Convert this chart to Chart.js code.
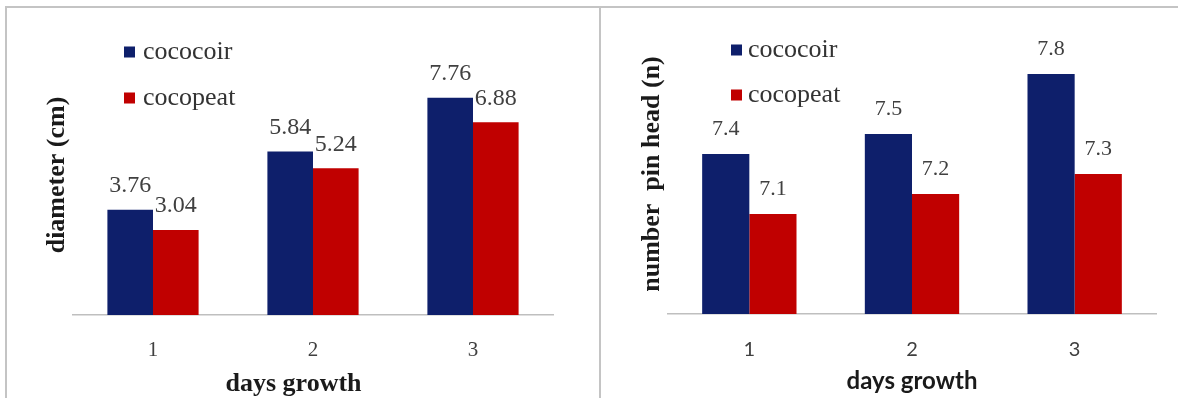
<!DOCTYPE html>
<html>
<head>
<meta charset="utf-8">
<script src="https://cdn.jsdelivr.net/npm/chart.js@4.4.1/dist/chart.umd.min.js"></script>
<style>
  html, body { margin: 0; padding: 0; background: #fff; width: 1178px; height: 398px; overflow: hidden; }
  #frame { position: absolute; left: 5px; top: 6px; width: 1180px; height: 400px;
           border-top: 2px solid #c4c4c4; border-left: 2px solid #c4c4c4; }
  #divider { position: absolute; left: 599px; top: 6px; width: 2px; height: 400px; background: #c4c4c4; }
  canvas { position: absolute; top: 8px; }
  #diamChart { left: 7px; }
  #pinChart { left: 602px; }
</style>
</head>
<body>
<div id="frame"></div>
<div id="divider"></div>
<canvas id="diamChart" width="592" height="390"></canvas>
<canvas id="pinChart" width="576" height="390"></canvas>

<script>
// data
const days = ['1', '2', '3'];
const seriesNames = ['cococoir', 'cocopeat'];
const diameterCoir = [3.76, 5.84, 7.76];
const diameterPeat = [3.04, 5.24, 6.88];
const pinHeadCoir = [7.4, 7.5, 7.8];
const pinHeadPeat = [7.1, 7.2, 7.3];

const NAVY = '#0e1f6b';
const RED = '#c00000';
const SERIF = 'Liberation Serif';
const SANS = 'Lato';

// value labels above every bar
const barLabels = {
  id: 'barLabels',
  afterDatasetsDraw(chart, args, opts) {
    const ctx = chart.ctx;
    ctx.save();
    ctx.font = opts.font;
    ctx.fillStyle = opts.color;
    ctx.textAlign = 'center';
    ctx.textBaseline = 'middle';
    chart.data.datasets.forEach((ds, i) => {
      chart.getDatasetMeta(i).data.forEach((bar, j) => {
        ctx.fillText(String(ds.data[j]), bar.x, bar.y - opts.offset);
      });
    });
    ctx.restore();
  }
};

// small square legend inside the plot, top left
const boxLegend = {
  id: 'boxLegend',
  afterDraw(chart, args, opts) {
    const { ctx, chartArea } = chart;
    ctx.save();
    ctx.font = opts.font;
    ctx.textAlign = 'left';
    ctx.textBaseline = 'middle';
    chart.data.datasets.forEach((ds, i) => {
      const x = chartArea.left + opts.x;
      const y = chartArea.top + opts.y + i * opts.gap;
      ctx.fillStyle = ds.backgroundColor;
      ctx.fillRect(x, y - opts.box / 2, opts.box, opts.box);
      ctx.fillStyle = opts.color;
      ctx.fillText(ds.label, x + opts.textGap, y);
    });
    ctx.restore();
  }
};

// chart 1: diameter
new Chart(document.getElementById('diamChart'), {
  type: 'bar',
  data: {
    labels: days,
    datasets: [
      { label: seriesNames[0], data: diameterCoir, backgroundColor: NAVY },
      { label: seriesNames[1], data: diameterPeat, backgroundColor: RED }
    ]
  },
  options: {
    responsive: false,
    animation: false,
    devicePixelRatio: 1,
    categoryPercentage: 0.57,
    barPercentage: 1,
    layout: { padding: { left: 34.4, right: 46, top: 27, bottom: -1.8 } },
    plugins: {
      legend: { display: false },
      tooltip: { enabled: false },
      barLabels: { font: '24px "' + SERIF + '"', color: '#404040', offset: 24 },
      boxLegend: { font: '26px "' + SERIF + '"', color: '#333', x: 51, y: 17, gap: 46, box: 11, textGap: 19 }
    },
    scales: {
      x: {
        grid: { display: false, drawTicks: false },
        border: { color: '#bfbfbf', width: 1.5 },
        ticks: { font: { family: SERIF, size: 21 }, color: '#404040', padding: 23 },
        // trailing spaces nudge the centred title a little to the left, as in the picture
        title: { display: true, text: 'days growth\u00a0\u00a0\u00a0\u00a0\u00a0\u00a0', color: '#1a1a1a',
                 font: { family: SERIF, size: 26, weight: 'bold' }, padding: { top: -17.6, bottom: 0 } }
      },
      y: {
        min: 0, max: 10,
        grid: { display: false, drawTicks: false },
        border: { display: false },
        ticks: { display: false },
        title: { display: true, text: 'diameter (cm)', color: '#1a1a1a',
                 font: { family: SERIF, size: 26, weight: 'bold' }, padding: { top: 0, bottom: 0.4 } }
      }
    }
  },
  plugins: [barLabels, boxLegend]
});

// chart 2: number of pin heads
new Chart(document.getElementById('pinChart'), {
  type: 'bar',
  data: {
    labels: days,
    datasets: [
      { label: seriesNames[0], data: pinHeadCoir, backgroundColor: NAVY },
      { label: seriesNames[1], data: pinHeadPeat, backgroundColor: RED }
    ]
  },
  options: {
    responsive: false,
    animation: false,
    devicePixelRatio: 1,
    categoryPercentage: 0.58,
    barPercentage: 1,
    layout: { padding: { left: 34.4, right: 22, top: 26, bottom: 2.6 } },
    plugins: {
      legend: { display: false },
      tooltip: { enabled: false },
      barLabels: { font: '22px "' + SERIF + '"', color: '#404040', offset: 25 },
      boxLegend: { font: '26px "' + SERIF + '"', color: '#333', x: 63, y: 16, gap: 45, box: 11, textGap: 17 }
    },
    scales: {
      x: {
        grid: { display: false, drawTicks: false },
        border: { color: '#bfbfbf', width: 1.5 },
        ticks: { font: { family: SANS, size: 20 }, color: '#404040', padding: 24 },
        title: { display: true, text: 'days growth', color: '#1a1a1a',
                 font: { family: SANS, size: 24, weight: 'bold' }, padding: { top: -19.4, bottom: 0 } }
      },
      y: {
        min: 6.6, max: 8.0,
        grid: { display: false, drawTicks: false },
        border: { display: false },
        ticks: { display: false },
        title: { display: true, text: 'number  pin head (n)', color: '#1a1a1a',
                 font: { family: SERIF, size: 26, weight: 'bold' }, padding: { top: 0, bottom: 0.4 } }
      }
    }
  },
  plugins: [barLabels, boxLegend]
});
</script>
</body>
</html>
